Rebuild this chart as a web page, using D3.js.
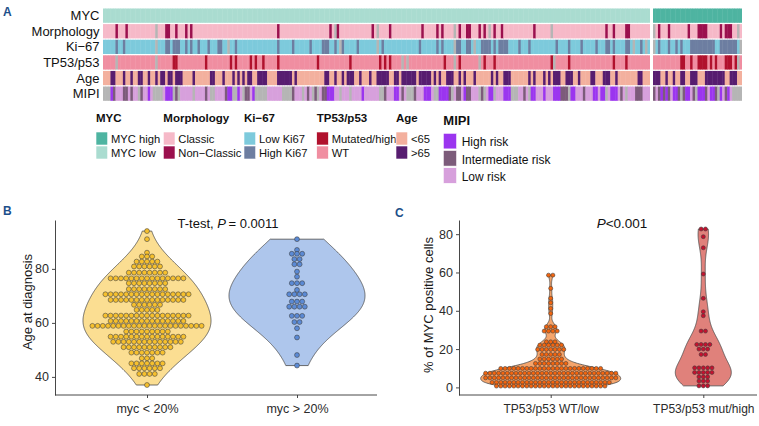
<!DOCTYPE html>
<html><head><meta charset="utf-8">
<script src="https://cdn.jsdelivr.net/npm/d3@7"></script>
<style>
body{margin:0;background:#fff;}
svg{display:block;font-family:"Liberation Sans",Arial,Helvetica,sans-serif;}
</style></head><body>
<svg id="chart" width="759" height="426"></svg>
<script>
// ================= DATA =================
// --- Panel A: oncoprint-style annotation heatmap ---
const heatRows = ["MYC", "Morphology", "Ki\u221267", "TP53/p53", "Age", "MIPI"];
const nLow = 220;   // MYC low patients
const nHigh = 36;   // MYC high patients

const morphNonClassicLow = [5,9,25,26,29,33,35,70,91,94,108,115,128,134,136,143,146,147,151,153,157,160,173,202,205,210,211];
const morphNALow = [21,93,110,141,155,180];
const morphNonClassicHigh = [2,6,14,18,19,20,21,27,29,30,31];
const morphNAHigh = [0,34];

const ki67HighLow = [5,8,25,26,28,29,30,33,35,38,42,46,47,53,70,76,83,88,89,90,93,96,102,112,127,134,136,142,143,146,147,152,153,154,155,157,159,160,161,162,167,171,182,187,192,198,202,203,205,210,211,216];
const ki67NALow = [21,50,95,110,141,149,213,218];
const ki67HighHigh = [2,6,9,11,15,16,17,18,19,20,21,22,23,24,27,28,29,30,31,32,33];
const ki67NAHigh = [0,35];

const tp53MutLow = [28,29,41,51,53,59,61,64,70,86,99,111,113,115,137,143,153,157,180,187,205,210];
const tp53NALow = [5,21,120,122,141,151,181];
const tp53MutHigh = [11,12,15,18,19,20,21,23,25,29,30,31,33];
const tp53NAHigh = [34];

const ageOldLow = [3,4,8,11,14,15,18,21,23,24,26,27,29,30,31,36,43,44,48,52,54,56,58,59,62,63,64,65,70,71,72,73,74,75,77,89,90,93,96,98,99,100,103,107,110,111,112,113,114,117,118,120,121,122,123,124,125,127,128,129,130,131,133,135,138,139,140,143,145,149,156,158,161,162,163,171,173,177,179,181,182,183,186,187,188,191,196,197,201,202,203,206,215,216];
const ageOldHigh = [0,1,2,5,8,11,12,15,16,17,21,22,23,24,25,26,27,28,31,32,33];

// MIPI codes: H = high, I = intermediate, L = low, g = not available
const mipiLow = "gggHILLLII" + "LILLgILLHL" + "ggggLHHHgI" + "gLLLLLgLLL" + "LILggLLLLI" +
                "HHggHLgIIL" + "HgggggLLLL" + "LLggggILLL" + "gLILgIgLII" + "HHHLLgLLLg" +
                "LLLLHLLLLL" + "LggILLLHHL" + "ILgggILLLH" + "HHLggHHHHI" + "gLIILHIILL" +
                "LgIgLHHgLL" + "LHHHgggLLI" + "LgHHLLLHLL" + "LHHHIIIgHH" + "LLLILLLHHL" +
                "HHgLHHHLIL" + "gLLLIIILLL";
const mipiHigh = "ILIHIHILHH" + "IgIHHLIgHH" + "HILHHIgHLI" + "HLgggg";

// Legend labels
const legendMYC = ["MYC high", "MYC low"];
const legendMorph = ["Classic", "Non\u2212Classic"];
const legendKi67 = ["Low Ki67", "High Ki67"];
const legendTP53 = ["Mutated/high", "WT"];
const legendAge = ["<65", ">65"];
const legendMIPI = ["High risk", "Intermediate risk", "Low risk"];

// --- Panel B: age at diagnosis by MYC group (dot-plot bins) ---
const bCategories = ["myc < 20%", "myc > 20%"];
const bTicks = [40, 60, 80];
const ageBinsLow   = [94, 91, 86, 84.6, 82.7, 80.9, 78.6, 76.5, 74.7, 72.5, 70.6, 68.5, 66.7, 64.8, 62.7, 60.7, 58.9, 56.8, 54.9, 53, 51, 49, 46.9, 45, 43.2, 41.1, 37];
const ageCountsLow = [1,  1,  1,  3,    5,    6,    8,    15,   8,    8,    17,   15,   6,    5,    17,   15,   22,   9,    15,   14, 10, 7,  3,    7,  6,    4,    1];
const ageBinsHigh   = [91, 87, 85.6, 83.6, 81.7, 79, 77.1, 74.7, 72.2, 70.6, 67.9, 66, 62.6, 60.3, 58, 54.6, 48.1, 44.2];
const ageCountsHigh = [1,  1,  3,    2,    2,    1,  1,    3,    1,    4,    3,    4,  3,    2,    1,  1,    1,    1];

// --- Panel C: % MYC positive cells by TP53/p53 status ---
const cCategories = ["TP53/p53 WT/low", "TP53/p53 mut/high"];
const cTicks = [0, 20, 40, 60, 80];
const mycBinsWT   = [58.6, 51.7, 46.5, 44.2, 41.2, 38.6, 31.7, 29.4, 23.8, 22.1, 19.8, 17.2, 14.8, 12.5, 9.9, 7.4, 5.0, 2.6, 0.7];
const mycCountsWT = [2,    1,    1,    1,    1,    1,    3,    4,    3,    6,    7,    5,    6,    8,    24,  31,  31,  28,  26];
const mycBinsMut   = [82.7, 78.7, 72.9, 59.2, 46.5, 39.5, 37.4, 29.4, 22.4, 20, 17.2, 10.2, 7.8, 5.5, 3.3, 0.8];
const mycCountsMut = [2,    1,    1,    1,    1,    1,    1,    2,    4,    3,  2,    5,    5,   3,   3,   3];

// ================= STYLE =================
const colors = {
  "MYC high": "#4eb4a1", "MYC low": "#aadcd0",
  "Classic": "#f6b9c8", "Non\u2212Classic": "#9b104e",
  "Low Ki67": "#7dcadc", "High Ki67": "#6d7ea1",
  "Mutated/high": "#b1112d", "WT": "#f08ea1",
  "<65": "#f3b09e", ">65": "#571d70",
  "High risk": "#9b35ef", "Intermediate risk": "#7c5b7a", "Low risk": "#d7a0dc",
  "NA": "#b5b5b5"
};
const panelBlue = "#1d4f8a";
const mipiMap = {H: "High risk", I: "Intermediate risk", L: "Low risk", g: "NA"};

function buildRow(n, base, overrides) {
  const a = new Array(n).fill(base);
  overrides.forEach(([label, idx]) => idx.forEach(i => { if (i < n) a[i] = label; }));
  return a;
}

const rowValues = {
  "MYC": {
    low: buildRow(nLow, "MYC low", []),
    high: buildRow(nHigh, "MYC high", [])
  },
  "Morphology": {
    low: buildRow(nLow, "Classic", [["Non\u2212Classic", morphNonClassicLow], ["NA", morphNALow]]),
    high: buildRow(nHigh, "Classic", [["Non\u2212Classic", morphNonClassicHigh], ["NA", morphNAHigh]])
  },
  "Ki\u221267": {
    low: buildRow(nLow, "Low Ki67", [["High Ki67", ki67HighLow], ["NA", ki67NALow]]),
    high: buildRow(nHigh, "Low Ki67", [["High Ki67", ki67HighHigh], ["NA", ki67NAHigh]])
  },
  "TP53/p53": {
    low: buildRow(nLow, "WT", [["Mutated/high", tp53MutLow], ["NA", tp53NALow]]),
    high: buildRow(nHigh, "WT", [["Mutated/high", tp53MutHigh], ["NA", tp53NAHigh]])
  },
  "Age": {
    low: buildRow(nLow, "<65", [[">65", ageOldLow]]),
    high: buildRow(nHigh, "<65", [[">65", ageOldHigh]])
  },
  "MIPI": {
    low: Array.from(mipiLow).map(c => mipiMap[c]),
    high: Array.from(mipiHigh).map(c => mipiMap[c])
  }
};

const svg = d3.select("#chart");

// ================= PANEL A =================
const gA = svg.append("g");
gA.append("text").attr("x", 3).attr("y", 16).text("A")
  .attr("font-weight", "bold").attr("font-size", 12).attr("fill", panelBlue);

const rowBand = d3.scaleBand().domain(heatRows).range([8.5, 100.8]).paddingInner(0.085);
const xLow = d3.scaleBand().domain(d3.range(nLow)).range([103, 650]);
const xHigh = d3.scaleBand().domain(d3.range(nHigh)).range([653, 742]);

heatRows.forEach(r => {
  [["low", xLow, nLow], ["high", xHigh, nHigh]].forEach(([grp, xs, n]) => {
    const vals = rowValues[r][grp];
    gA.append("g").selectAll("rect").data(vals).join("rect")
      .attr("x", (d, i) => xs(i))
      .attr("y", rowBand(r))
      .attr("width", (d, i) => xs.bandwidth() + (i < n - 1 ? 0.45 : 0))
      .attr("height", rowBand.bandwidth())
      .attr("fill", d => colors[d] || colors["NA"]);
  });
  gA.append("text").attr("x", 99.5).attr("y", rowBand(r) + rowBand.bandwidth() / 2 + 4.6)
    .attr("text-anchor", "end").attr("font-size", 13).attr("fill", "#111").text(r);
});

// Legends
const legendGroups = [
  {title: "MYC", items: legendMYC, x: 96, big: false},
  {title: "Morphology", items: legendMorph, x: 163.3, big: false},
  {title: "Ki\u221267", items: legendKi67, x: 244, big: false},
  {title: "TP53/p53", items: legendTP53, x: 316.7, big: false},
  {title: "Age", items: legendAge, x: 396, big: false},
  {title: "MIPI", items: legendMIPI, x: 443.3, big: true}
];
legendGroups.forEach(lg => {
  const g = svg.append("g");
  const sw = lg.big ? 13.3 : 11.7, sh = lg.big ? 15.6 : 13, step = lg.big ? 17.2 : 14, top = lg.big ? 133.3 : 132;
  g.append("text").attr("x", lg.x).attr("y", lg.big ? 125 : 122.3).text(lg.title)
    .attr("font-weight", "bold").attr("font-size", lg.big ? 13 : 11.5).attr("fill", "#111");
  lg.items.forEach((it, i) => {
    g.append("rect").attr("x", lg.x).attr("y", top + i * step).attr("width", sw).attr("height", sh)
      .attr("fill", colors[it]).attr("stroke", "#fff").attr("stroke-width", 0.6);
    g.append("text").attr("x", lg.x + (lg.big ? 18.4 : 15)).attr("y", top + i * step + (lg.big ? 13 : 10.8))
      .attr("font-size", lg.big ? 12 : 11.2).attr("fill", "#111").text(it);
  });
});

// ================= helpers =================
function expand(bins, counts) {
  const out = [];
  bins.forEach((b, i) => { for (let k = 0; k < counts[i]; k++) out.push(b); });
  return out;
}
function nrd0(v) {
  const s = v.slice().sort(d3.ascending);
  const sd = d3.deviation(s);
  const iqr = d3.quantileSorted(s, 0.75) - d3.quantileSorted(s, 0.25);
  let lo = Math.min(sd, iqr / 1.34);
  if (!(lo > 0)) lo = sd || 1;
  return 0.9 * lo * Math.pow(s.length, -0.2);
}
function kde(values, bw) {
  const lo = d3.min(values), hi = d3.max(values), n = 256;
  return d3.range(n).map(i => {
    const x = lo + (hi - lo) * i / (n - 1);
    return {v: x, d: d3.sum(values, xi => Math.exp(-0.5 * ((x - xi) / bw) ** 2))};
  });
}
function drawViolin(g, cx, values, y, maxHalf, adjust, fill) {
  const est = kde(values, nrd0(values) * adjust);
  const md = d3.max(est, p => p.d);
  const area = d3.area()
    .y(p => y(p.v))
    .x0(p => cx - p.d / md * maxHalf)
    .x1(p => cx + p.d / md * maxHalf)
    .curve(d3.curveLinear);
  g.append("path").attr("d", area(est)).attr("fill", fill)
    .attr("stroke", "#4a4a4a").attr("stroke-width", 0.8);
}
function drawDots(g, cx, bins, counts, y, r, fill) {
  const pts = [];
  bins.forEach((b, i) => {
    const c = counts[i];
    for (let j = 0; j < c; j++) pts.push({x: cx + (j - (c - 1) / 2) * 2 * r, v: b});
  });
  g.append("g").selectAll("circle").data(pts).join("circle")
    .attr("cx", d => d.x).attr("cy", d => y(d.v)).attr("r", r - 0.15)
    .attr("fill", fill).attr("stroke", "#3a3a3a").attr("stroke-width", 0.55);
}
function styleAxis(sel) {
  sel.selectAll("path.domain").attr("stroke", "#333").attr("stroke-width", 0.9);
  sel.selectAll(".tick line").attr("stroke", "#333").attr("stroke-width", 0.9);
  sel.selectAll(".tick text").attr("fill", "#2b2b2b")
    .attr("font-family", '"Liberation Sans",Arial,Helvetica,sans-serif');
}

// ================= PANEL B =================
const gB = svg.append("g");
gB.append("text").attr("x", 3).attr("y", 215).text("B")
  .attr("font-weight", "bold").attr("font-size", 12).attr("fill", panelBlue);
const yB = d3.scaleLinear().domain([33.3, 98.1]).range([395, 220]);
const xB = d3.scalePoint().domain(bCategories).range([147, 297]);

const lowAges = expand(ageBinsLow, ageCountsLow);
const highAges = expand(ageBinsHigh, ageCountsHigh);
drawViolin(gB, xB(bCategories[0]), lowAges, yB, 64, 2.1, "#fbde92");
drawViolin(gB, xB(bCategories[1]), highAges, yB, 68, 1.7, "#aec6ec");
drawDots(gB, xB(bCategories[0]), ageBinsLow, ageCountsLow, yB, 2.6, "#f6c02e");
drawDots(gB, xB(bCategories[1]), ageBinsHigh, ageCountsHigh, yB, 2.6, "#5b8ad5");

const axBy = gB.append("g").attr("transform", "translate(55,0)")
  .call(d3.axisLeft(yB).tickValues(bTicks).tickSize(3).tickSizeOuter(0).tickPadding(3));
axBy.selectAll(".tick text").attr("font-size", 12.5);
styleAxis(axBy);
const axBx = gB.append("g").attr("transform", "translate(0,395)")
  .call(d3.axisBottom(xB).tickSize(3).tickPadding(6));
axBx.select("path.domain").remove();
axBx.selectAll(".tick text").attr("font-size", 12.5).attr("dy", "0.71em");
styleAxis(axBx);
gB.append("line").attr("x1", 55).attr("x2", 377).attr("y1", 395).attr("y2", 395)
  .attr("stroke", "#333").attr("stroke-width", 0.9);
gB.append("text").attr("transform", "translate(31.5,302) rotate(-90)")
  .attr("text-anchor", "middle").attr("font-size", 13).attr("fill", "#1a1a1a").text("Age at diagnosis");
const tB = gB.append("text").attr("x", 228).attr("y", 228).attr("text-anchor", "middle")
  .attr("font-size", 13).attr("fill", "#111");
tB.append("tspan").text("T-test, ");
tB.append("tspan").attr("font-style", "italic").text("P");
tB.append("tspan").text("\u2009= 0.0011");

// ================= PANEL C =================
const gC = svg.append("g");
gC.append("text").attr("x", 395).attr("y", 216.5).text("C")
  .attr("font-weight", "bold").attr("font-size", 12).attr("fill", panelBlue);
const yC = d3.scaleLinear().domain([-3.97, 87.4]).range([395, 220]);
const xC = d3.scalePoint().domain(cCategories).range([550.7, 703.3]);

const wtVals = expand(mycBinsWT, mycCountsWT);
const mutVals = expand(mycBinsMut, mycCountsMut);
drawViolin(gC, xC(cCategories[0]), wtVals, yC, 70, 1.0, "#f5a56c");
drawViolin(gC, xC(cCategories[1]), mutVals, yC, 28, 1.0, "#e0817b");
drawDots(gC, xC(cCategories[0]), mycBinsWT, mycCountsWT, yC, 2.17, "#f2650f");
drawDots(gC, xC(cCategories[1]), mycBinsMut, mycCountsMut, yC, 2.17, "#c4122f");

const axCy = gC.append("g").attr("transform", "translate(459,0)")
  .call(d3.axisLeft(yC).tickValues(cTicks).tickSize(3).tickSizeOuter(0).tickPadding(3));
axCy.selectAll(".tick text").attr("font-size", 12.5);
styleAxis(axCy);
const axCx = gC.append("g").attr("transform", "translate(0,395)")
  .call(d3.axisBottom(xC).tickSize(3).tickPadding(6));
axCx.select("path.domain").remove();
axCx.selectAll(".tick text").attr("font-size", 12).attr("dy", "0.71em");
styleAxis(axCx);
gC.append("line").attr("x1", 459).attr("x2", 757).attr("y1", 395).attr("y2", 395)
  .attr("stroke", "#333").attr("stroke-width", 0.9);
gC.append("text").attr("transform", "translate(432.5,305) rotate(-90)")
  .attr("text-anchor", "middle").attr("font-size", 13).attr("fill", "#1a1a1a").text("% of MYC positive cells");
const tC = gC.append("text").attr("x", 622).attr("y", 228.3).attr("text-anchor", "middle")
  .attr("font-size", 13.5).attr("fill", "#111");
tC.append("tspan").attr("font-style", "italic").text("P");
tC.append("tspan").text("<0.001");
</script>
</body></html>
